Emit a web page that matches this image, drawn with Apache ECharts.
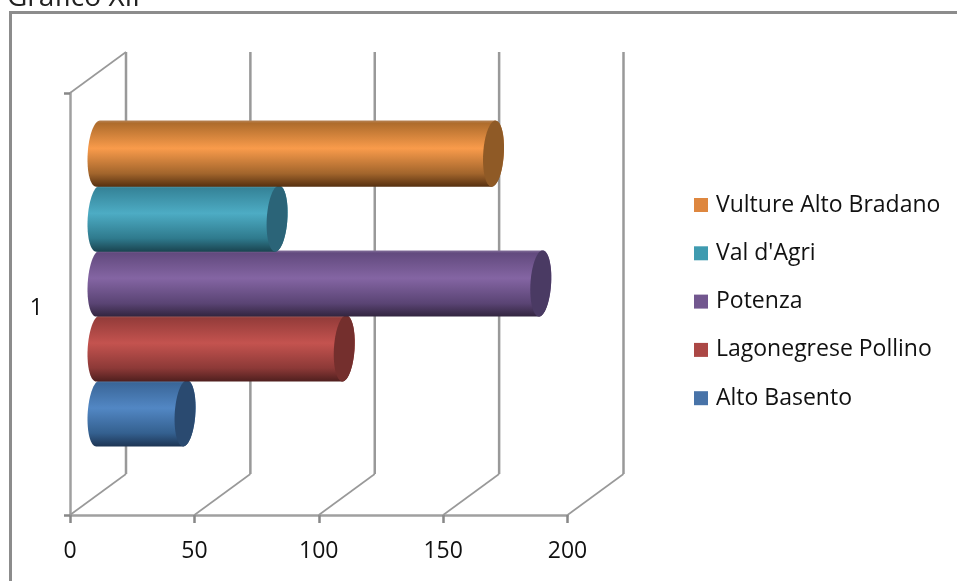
<!DOCTYPE html>
<html>
<head>
<meta charset="utf-8">
<style>html,body{margin:0;padding:0;background:#fff}#chart{width:957px;height:581px}</style>
<script src="https://cdn.jsdelivr.net/npm/echarts@6/dist/echarts.min.js"></script>
</head>
<body>
<div id="chart"></div>
<script>
// Zone names, drawn bottom to top on the single category
const zones = ['Alto Basento', 'Lagonegrese Pollino', 'Potenza', "Val d'Agri", 'Vulture Alto Bradano'];
const values = [35, 99, 178, 72, 159];
const categories = ['1'];
const valueTicks = [0, 50, 100, 150, 200];
const legendOrder = ['Vulture Alto Bradano', "Val d'Agri", 'Potenza', 'Lagonegrese Pollino', 'Alto Basento'];

// Flat colour used by the legend, then the shaded cylinder side and the end cap
const swatches = ['#4873A8', '#AB4745', '#72578F', '#3F9BB0', '#DE873F'];
const sideShades = [
  ['#6F8DB0', '#3A6698', '#5287C4', '#34608F', '#1D3554'],
  ['#A87070', '#943C3A', '#C4534F', '#8C3937', '#4F1F1E'],
  ['#84709B', '#624A7E', '#8465A3', '#5A4474', '#32253F'],
  ['#68A4B4', '#358398', '#4DACC4', '#2F7A8D', '#1A4450'],
  ['#B58254', '#AE6C2C', '#F99B4B', '#A2652C', '#563010']
];
const capColors = ['#2A4A70', '#742F2D', '#4A3A63', '#2B6478', '#8F5A26'];

// Oblique depth of the plot box, in pixels
const depthX = 56;
const depthY = 41;
const gapRatio = 1.5;      // gap between band edges and the bars, in bar widths
const capHalfWidth = 10.5;
const capShear = 6;
const wallColor = '#999999';
const labelFont = 'Open Sans';

const chart = echarts.init(document.getElementById('chart'));

// Side wall and floor lines for one value tick
function renderWall(params, api) {
  const v = api.value(0);
  const band = api.size([0, 1])[1];
  const foot = api.coord([v, 0]);
  const y0 = foot[1] + band / 2;
  const y1 = foot[1] - band / 2;
  const x = foot[0];
  const upright = { stroke: wallColor, lineWidth: 2.5 };
  const slanted = { stroke: wallColor, lineWidth: 1.6 };
  const children = [
    { type: 'line', shape: { x1: x, y1: y0, x2: x + depthX, y2: y0 - depthY }, style: slanted },
    { type: 'line', shape: { x1: x + depthX, y1: y0 - depthY, x2: x + depthX, y2: y1 - depthY }, style: upright }
  ];
  if (v === 0) {
    children.push({ type: 'line', shape: { x1: x, y1: y1, x2: x + depthX, y2: y1 - depthY }, style: slanted });
  }
  return { type: 'group', children };
}

// One horizontal cylinder, placed at mid depth of the plot box
function cylinderRenderer(index) {
  return function (params, api) {
    const v = api.value(0);
    const end = api.coord([v, 0]);
    const start = api.coord([0, 0]);
    const band = api.size([0, 1])[1];
    const barH = band / (zones.length + gapRatio);
    const cy = end[1] + band / 2 - band * 0.5 * gapRatio / (zones.length + gapRatio) - barH * (index + 0.5) - depthY / 2;
    const x0 = start[0] + depthX / 2;
    const x1 = end[0] + depthX / 2;
    const r = barH / 2 + 0.6;
    const b = Math.sqrt(r * r - capShear * capShear);
    const t0 = Math.atan2(b, capShear);
    const pt = (cx, t) => [cx + capHalfWidth * Math.cos(t), cy - b * Math.sin(t) - capShear * Math.cos(t)];
    const steps = 40;
    const side = [];
    const cap = [];
    for (let i = 0; i <= steps; i++) side.push(pt(x0, t0 + Math.PI * i / steps));
    for (let i = 0; i <= steps; i++) side.push(pt(x1, t0 + Math.PI + Math.PI * i / steps));
    for (let i = 0; i < steps * 2; i++) cap.push(pt(x1, Math.PI * i / steps));
    const s = sideShades[index];
    const fill = new echarts.graphic.LinearGradient(0, 0, 0, 1, [
      { offset: 0, color: s[0] },
      { offset: 0.04, color: s[1] },
      { offset: 0.42, color: s[2] },
      { offset: 0.8, color: s[3] },
      { offset: 1, color: s[4] }
    ]);
    return {
      type: 'group',
      children: [
        { type: 'polygon', shape: { points: side }, style: { fill } },
        { type: 'polygon', shape: { points: cap }, style: { fill: capColors[index] } }
      ]
    };
  };
}

const series = [{
  type: 'custom',
  name: 'walls',
  silent: true,
  z: 1,
  encode: { x: 0, y: 1 },
  renderItem: renderWall,
  data: valueTicks.map(v => [v, 0]),
  clip: false
}];
zones.forEach((name, i) => {
  series.push({
    type: 'custom',
    name,
    z: 2 + i,
    encode: { x: 0, y: 1 },
    itemStyle: { color: swatches[i] },
    renderItem: cylinderRenderer(i),
    data: [[values[i], 0]],
    clip: false
  });
});

chart.setOption({
  animation: false,
  backgroundColor: '#ffffff',
  title: {
    text: 'Grafico XII',
    left: 2,
    top: -21,
    textStyle: { fontFamily: labelFont, fontWeight: 'normal', fontSize: 28, color: '#222' }
  },
  grid: { left: 70, right: 389.5, top: 93, bottom: 66 },
  xAxis: {
    type: 'value',
    min: 0,
    max: 200,
    interval: 50,
    splitLine: { show: false },
    axisLine: { show: true, lineStyle: { color: '#a0a0a0', width: 2.5 } },
    axisTick: { show: true, length: 8, lineStyle: { color: '#888', width: 2.5 } },
    axisLabel: { fontFamily: labelFont, fontSize: 23, color: '#111', margin: 25 }
  },
  yAxis: {
    type: 'category',
    data: categories,
    axisLine: { show: true, lineStyle: { color: '#a0a0a0', width: 2.5 } },
    axisTick: { show: true, length: 6, alignWithLabel: false, lineStyle: { color: '#888', width: 2.5 } },
    axisLabel: {
      margin: 27,
      formatter: '{n|{value}}',
      rich: { n: { fontFamily: labelFont, fontSize: 23, color: '#111', padding: [8, 0, 0, 0] } }
    }
  },
  legend: {
    orient: 'vertical',
    left: 689,
    top: 187,
    itemWidth: 14,
    itemHeight: 14,
    itemGap: 22.3,
    icon: 'rect',
    data: legendOrder,
    textStyle: { fontFamily: labelFont, fontSize: 23, color: '#111', padding: [0, 0, 0, 3], lineHeight: 26 }
  },
  graphic: [{
    type: 'rect',
    silent: true,
    z: 0,
    shape: { x: 10.5, y: 12.5, width: 1200, height: 1200 },
    style: { fill: 'none', stroke: '#8c8c8c', lineWidth: 3 }
  }],
  series
});
</script>
</body>
</html>
